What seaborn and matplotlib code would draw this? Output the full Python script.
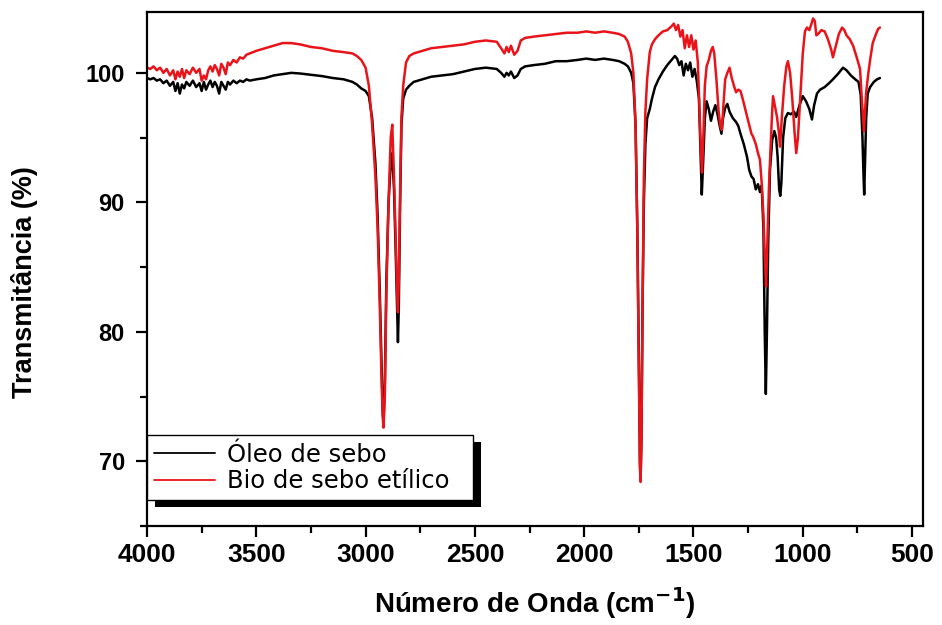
"""
FTIR spectra: Óleo de sebo vs Bio de sebo etílico.
"""
import numpy as np
import pandas as pd
import matplotlib
matplotlib.use("Agg")
import matplotlib.pyplot as plt
from matplotlib.lines import Line2D
from matplotlib.patches import Rectangle
from matplotlib.ticker import MultipleLocator
import seaborn as sns

# Óleo de sebo (black) - wavenumber / transmittance
wn_oleo = [
    4000, 3985, 3970, 3955, 3940, 3925, 3910, 3895, 3880, 3870, 3860, 3850,
    3840, 3830, 3820, 3805, 3790, 3775, 3760, 3750, 3740, 3730, 3720, 3710,
    3700, 3690, 3680, 3670, 3660, 3650, 3640, 3630, 3620, 3605, 3590, 3575,
    3560, 3545, 3530, 3500, 3460, 3420, 3380, 3340, 3300, 3250, 3200, 3150,
    3100, 3060, 3040, 3020, 3000, 2985, 2970, 2955, 2945, 2935, 2928, 2922,
    2918, 2912, 2905, 2895, 2885, 2878, 2870, 2862, 2855, 2852, 2848, 2842,
    2836, 2828, 2815, 2800, 2780, 2740, 2700, 2650, 2600, 2550, 2500, 2450,
    2400, 2380, 2365, 2355, 2345, 2335, 2320, 2305, 2290, 2270, 2230, 2180,
    2130, 2080, 2030, 1990, 1950, 1910, 1870, 1840, 1815, 1800, 1785, 1775,
    1765, 1757, 1750, 1745, 1742, 1738, 1733, 1727, 1720, 1712, 1700, 1690,
    1676, 1660, 1640, 1620, 1600, 1585, 1575, 1565, 1555, 1545, 1535, 1525,
    1515, 1505, 1495, 1485, 1475, 1468, 1462, 1456, 1448, 1440, 1430, 1420,
    1410, 1400, 1390, 1380, 1372, 1365, 1355, 1345, 1335, 1320, 1305, 1295,
    1285, 1270, 1255, 1245, 1235, 1225, 1215, 1205, 1196, 1188, 1180, 1174,
    1169, 1164, 1158, 1150, 1140, 1130, 1122, 1115, 1108, 1103, 1098, 1090,
    1080, 1068, 1055, 1040, 1030, 1015, 1000, 985, 970, 958, 948, 935,
    921, 900, 880, 862, 840, 816, 800, 780, 760, 745, 735, 727,
    722, 719, 716, 710, 703, 692, 675, 660, 647,
]
t_oleo = [
    99.6, 99.5, 99.6, 99.4, 99.5, 99.2, 99.4, 99.0, 99.3, 98.6, 99.2, 98.4,
    99.1, 98.8, 99.3, 99.0, 99.4, 98.9, 99.2, 98.6, 99.3, 98.7, 99.1, 99.4,
    98.9, 99.3, 99.0, 98.4, 99.3, 99.0, 98.7, 99.3, 99.1, 99.4, 99.2, 99.4,
    99.3, 99.5, 99.4, 99.5, 99.6, 99.8, 99.9, 100.0, 99.95, 99.85, 99.75, 99.6,
    99.5, 99.3, 99.1, 98.8, 98.6, 98.2, 96.5, 93.0, 89.0, 83.0, 78.0, 74.0,
    73.0, 76.0, 84.0, 90.0, 93.0, 93.8, 91.0, 86.0, 81.0, 79.2, 82.0, 90.0,
    96.0, 98.0, 98.7, 99.0, 99.3, 99.5, 99.7, 99.8, 99.9, 100.1, 100.3, 100.4,
    100.3, 100.0, 99.7, 100.0, 99.8, 100.1, 99.6, 99.8, 100.3, 100.5, 100.6, 100.7,
    100.9, 100.9, 101.0, 101.1, 101.0, 101.1, 101.0, 100.9, 100.7, 100.5, 100.0, 99.2,
    96.0, 88.0, 78.0, 70.0, 68.6, 72.0, 82.0, 90.0, 94.5, 96.5, 97.2, 98.0,
    98.9, 99.5, 100.1, 100.6, 101.0, 101.3, 101.1, 100.6, 100.9, 99.8, 100.7, 100.2,
    100.8, 99.7, 100.3, 99.4, 98.0, 94.0, 90.6, 93.0, 96.5, 97.8, 97.2, 96.3,
    97.0, 97.5, 96.8, 95.9, 95.3, 96.5, 97.3, 97.6, 97.0, 96.5, 96.2, 95.9,
    95.3, 94.5, 93.5, 92.5, 92.0, 91.8, 91.0, 91.4, 90.8, 91.3, 88.0, 80.0,
    75.2, 80.0, 87.0, 92.5, 94.8, 95.5, 95.0, 93.5, 91.0, 90.5, 91.5, 95.0,
    96.5, 96.9, 96.8, 97.0, 96.6, 97.5, 98.2, 97.8, 97.2, 96.4, 97.5, 98.4,
    98.7, 98.9, 99.2, 99.5, 99.9, 100.4, 100.2, 99.8, 99.5, 99.3, 98.3, 95.0,
    92.0, 90.6, 92.5, 96.5, 98.4, 98.9, 99.3, 99.5, 99.6,
]

# Bio de sebo etílico (red)
wn_bio = [
    4000, 3985, 3970, 3955, 3940, 3925, 3910, 3895, 3880, 3870, 3860, 3850,
    3840, 3830, 3820, 3805, 3790, 3775, 3760, 3750, 3740, 3730, 3720, 3710,
    3700, 3690, 3680, 3670, 3660, 3650, 3640, 3630, 3620, 3605, 3590, 3575,
    3560, 3545, 3530, 3500, 3460, 3420, 3380, 3340, 3300, 3250, 3200, 3150,
    3100, 3060, 3040, 3020, 3000, 2985, 2970, 2955, 2945, 2935, 2928, 2922,
    2918, 2912, 2905, 2895, 2885, 2878, 2870, 2862, 2855, 2852, 2848, 2842,
    2836, 2828, 2815, 2800, 2780, 2740, 2700, 2650, 2600, 2550, 2500, 2450,
    2400, 2380, 2365, 2355, 2345, 2335, 2320, 2305, 2290, 2270, 2230, 2180,
    2130, 2080, 2030, 1990, 1950, 1910, 1870, 1840, 1815, 1800, 1785, 1775,
    1765, 1757, 1750, 1745, 1742, 1738, 1733, 1727, 1720, 1712, 1700, 1690,
    1676, 1660, 1640, 1620, 1600, 1590, 1580, 1570, 1560, 1550, 1540, 1530,
    1520, 1510, 1500, 1490, 1480, 1472, 1466, 1461, 1455, 1448, 1440, 1430,
    1420, 1412, 1405, 1395, 1385, 1376, 1370, 1363, 1355, 1345, 1335, 1325,
    1315, 1305, 1295, 1285, 1275, 1260, 1245, 1235, 1228, 1215, 1205, 1196,
    1188, 1180, 1174, 1168, 1162, 1155, 1148, 1140, 1136, 1128, 1118, 1110,
    1104, 1096, 1085, 1075, 1068, 1058, 1048, 1038, 1030, 1022, 1012, 1000,
    990, 981, 970, 960, 953, 945, 938, 930, 915, 900, 885, 870,
    862, 850, 835, 820, 810, 800, 785, 770, 755, 745, 738, 730,
    724, 720, 716, 710, 700, 692, 680, 665, 655, 647,
]
t_bio = [
    100.4, 100.3, 100.5, 100.2, 100.4, 100.0, 100.3, 99.8, 100.2, 99.5, 100.1, 99.7,
    100.3, 99.6, 100.2, 99.9, 100.4, 100.0, 100.3, 99.4, 99.8, 99.5, 100.2, 100.5,
    100.1, 100.6, 100.3, 99.8, 100.7, 100.4, 99.9, 100.8, 100.6, 101.0, 100.8, 101.2,
    101.1, 101.4, 101.5, 101.7, 101.9, 102.1, 102.3, 102.3, 102.2, 102.0, 101.9, 101.7,
    101.6, 101.5, 101.3, 101.0, 100.4, 99.0, 96.0, 92.0, 88.0, 82.0, 77.0, 73.5,
    72.6, 75.0, 83.0, 90.0, 95.0, 96.0, 92.0, 87.0, 82.5, 81.5, 84.0, 91.0,
    96.6, 99.0, 100.8, 101.3, 101.5, 101.7, 101.9, 102.0, 102.1, 102.2, 102.4, 102.5,
    102.4, 101.9, 101.5, 102.0, 101.6, 102.1, 101.4, 101.7, 102.5, 102.7, 102.8, 102.9,
    103.0, 103.1, 103.1, 103.2, 103.1, 103.2, 103.1, 103.0, 102.8, 102.4, 101.5, 100.0,
    96.0, 88.0, 77.0, 69.5, 68.4, 71.5, 82.0, 92.0, 97.0, 99.5, 101.6, 102.2,
    102.6, 102.9, 103.2, 103.3, 103.6, 103.8, 103.3, 103.7, 102.8, 103.3, 101.9, 102.9,
    102.0, 102.9, 101.8, 102.5, 100.8, 97.0, 94.0, 92.3, 95.0, 99.0, 100.5, 101.0,
    101.7, 102.0, 101.5, 99.5, 97.0, 95.8, 95.6, 97.5, 99.5, 100.0, 100.4, 99.6,
    99.0, 98.5, 98.7, 98.6, 98.0, 97.0, 96.0, 95.3, 95.1, 94.5, 93.8, 93.3,
    91.5, 89.0, 86.0, 83.5, 87.0, 91.0, 94.0, 97.0, 98.2, 97.5, 96.6, 95.5,
    94.3, 96.5, 99.0, 100.5, 100.9, 100.0, 98.0, 95.5, 93.8, 95.0, 98.0, 101.5,
    103.2, 103.5, 103.3, 103.8, 104.2, 104.0, 102.9, 103.0, 103.3, 103.2, 102.6, 101.8,
    101.2, 102.0, 103.0, 103.5, 103.3, 102.9, 102.6, 102.1, 101.3, 100.7, 100.3, 98.0,
    96.5, 95.5, 96.8, 98.5, 100.0, 101.0, 102.3, 103.0, 103.4, 103.5,
]

labels = ["Óleo de sebo", "Bio de sebo etílico"]
colors = {"Óleo de sebo": "black", "Bio de sebo etílico": "#e8141a"}

df = pd.concat([
    pd.DataFrame({"wn": wn_oleo, "T": t_oleo, "amostra": labels[0]}),
    pd.DataFrame({"wn": wn_bio, "T": t_bio, "amostra": labels[1]}),
], ignore_index=True)

sns.set_style("ticks")
plt.rcParams["font.family"] = ["Liberation Sans", "DejaVu Sans"]
plt.rcParams["text.color"] = "black"
plt.rcParams["axes.labelcolor"] = "black"
plt.rcParams["xtick.color"] = "black"
plt.rcParams["ytick.color"] = "black"

fig = plt.figure(figsize=(9.42, 6.25), dpi=100)
ax = fig.add_axes([147 / 942, 1 - 526 / 625, 776 / 942, 514 / 625])

sns.lineplot(data=df, x="wn", y="T", hue="amostra", hue_order=labels,
             palette=colors, estimator=None, sort=False, lw=1.8,
             legend=False, ax=ax)

ax.set_xlim(4000, 450)
ax.set_ylim(65, 104.7)
ax.xaxis.set_major_locator(MultipleLocator(500))
ax.xaxis.set_minor_locator(MultipleLocator(250))
ax.yaxis.set_major_locator(MultipleLocator(10))
ax.yaxis.set_minor_locator(MultipleLocator(5))

for s in ax.spines.values():
    s.set_linewidth(1.6)
    s.set_color("black")
ax.tick_params(axis="both", which="both", direction="out", top=False,
               right=False, color="black", labelcolor="black", width=1.6)
ax.tick_params(axis="x", which="major", length=8, pad=4, labelsize=19)
ax.tick_params(axis="x", which="minor", length=5)
ax.tick_params(axis="y", which="major", length=8, pad=8, labelsize=17)
ax.tick_params(axis="y", which="minor", length=5)
for lab in ax.get_xticklabels() + ax.get_yticklabels():
    lab.set_fontweight("bold")

ax.set_xlabel("Número de Onda (cm$^{\\mathbf{-1}}$)", fontsize=20,
              fontweight="bold", color="black")
ax.set_ylabel("Transmitância (%)", fontsize=19.5, fontweight="bold",
              color="black")
ax.xaxis.set_label_coords(0.5, -0.115)
ax.yaxis.set_label_coords(-0.14, 0.475)

handles = [Line2D([], [], color=colors[l], lw=1.3) for l in labels]
leg = ax.legend(handles, labels, loc="lower left",
                bbox_to_anchor=(0, 0.05, 0.42, 0.12), mode="expand",
                borderaxespad=0, fancybox=False, framealpha=1,
                edgecolor="black", handlelength=2.5, handletextpad=0.5,
                borderpad=0.3, labelspacing=0.1,
                prop={"family": "DejaVu Sans", "size": 17.5})
leg.get_frame().set_linewidth(1.0)
leg.set_zorder(6)
for t in leg.get_texts():
    t.set_color("black")

# black drop shadow behind the legend box
fig.canvas.draw()
bb = leg.get_window_extent().transformed(ax.transAxes.inverted())
dx, dy = 8 / 776, -7 / 514
ax.add_patch(Rectangle((bb.x0 + dx, bb.y0 + dy), bb.width, bb.height,
                       transform=ax.transAxes, facecolor="black",
                       edgecolor="none", zorder=5, clip_on=False))

fig.savefig("out.png", dpi=100)
